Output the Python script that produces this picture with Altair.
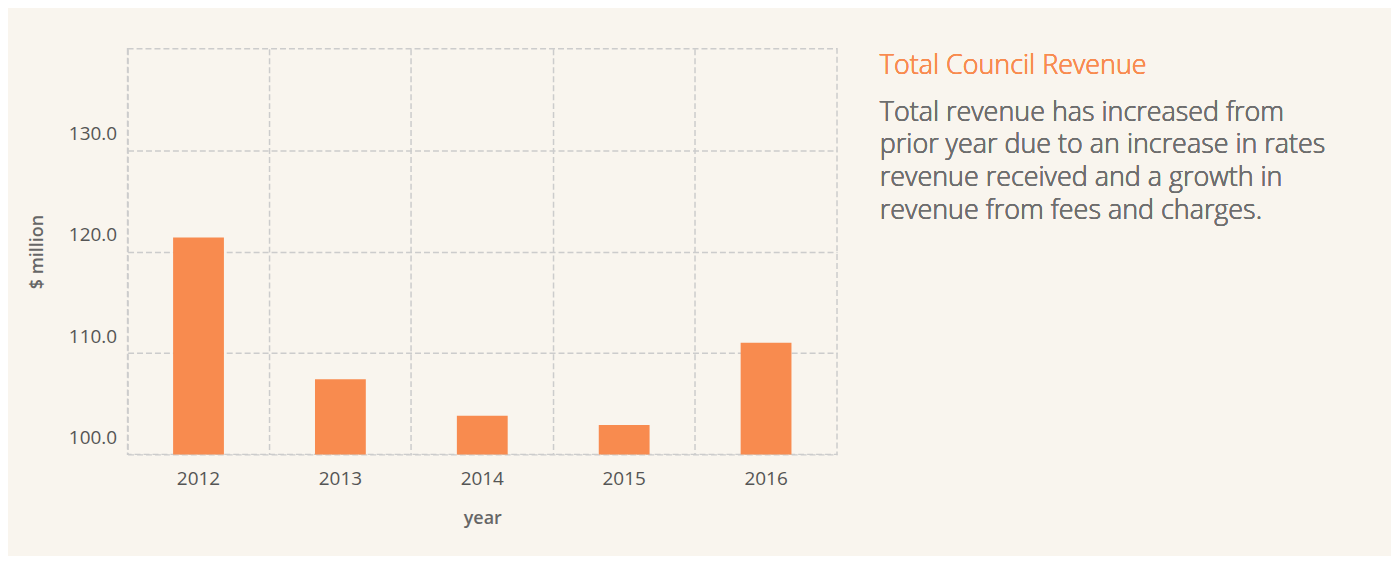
import altair as alt
import pandas as pd

years = ["2012", "2013", "2014", "2015", "2016"]
revenue = [121.4, 107.4, 103.8, 102.9, 111.0]
y_ticks = [100, 110, 120, 130]
title_text = "Total Council Revenue"
body_lines = [
    "Total revenue has increased from",
    "prior year due to an increase in rates",
    "revenue received and a growth in",
    "revenue from fees and charges.",
]

df = pd.DataFrame({"year": years, "revenue": revenue})

FONT = "Open Sans"
W, H = 712, 407

base = alt.Chart(df)

bars = base.mark_bar(size=51, color="#f88b4f").encode(
    x=alt.X(
        "year:N",
        title="year",
        scale=alt.Scale(paddingInner=0, paddingOuter=0),
        axis=alt.Axis(
            labelAngle=0,
            bandPosition=0,
            grid=True,
            ticks=False,
            domain=False,
            labelPadding=15,
            titlePadding=21,
        ),
    ),
    y=alt.Y(
        "revenue:Q",
        title="$ million",
        scale=alt.Scale(domain=[100, 140], zero=False, nice=False),
        axis=alt.Axis(
            values=y_ticks,
            format=".1f",
            grid=True,
            ticks=False,
            domain=False,
            labelPadding=11,
            labelOffset=-17,
            titlePadding=22,
        ),
    ),
    y2=alt.datum(100),
)

title_mark = base.mark_text(
    align="left", baseline="alphabetic", fontSize=27, font=FONT, fontWeight=300,
    color="#f88b4f"
).encode(x=alt.value(755), y=alt.value(25), text=alt.value(title_text))

body_mark = base.mark_text(
    align="left", baseline="alphabetic", fontSize=27, font=FONT, fontWeight=300,
    color="#6e6e6e", lineHeight=33,
).encode(x=alt.value(755), y=alt.value(72), text=alt.value(body_lines))

chart = (
    alt.layer(bars, title_mark, body_mark)
    .properties(width=W, height=H, background="#f9f5ee",
                padding={"left": 20, "top": 40, "right": 65, "bottom": 28})
    .configure_view(stroke="#cccccc", strokeWidth=1.5, strokeDash=[6, 3])
    .configure_axis(
        gridColor="#cccccc",
        gridWidth=1.5,
        gridDash=[6, 3],
        labelFont=FONT,
        labelFontSize=19,
        labelColor="#555555",
        titleFont=FONT,
        titleFontSize=18,
        titleFontWeight=600,
        titleColor="#666666",
    )
)

chart.save("out.html", embed_options={"renderer": "svg", "actions": False})
